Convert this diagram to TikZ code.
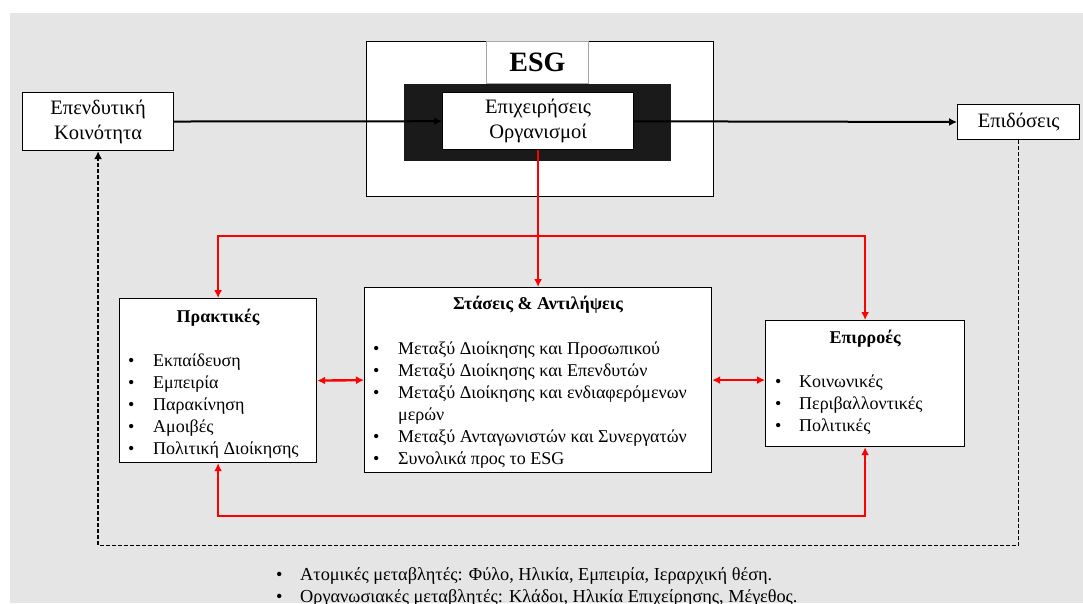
\documentclass[tikz,border=0pt]{standalone}
\usepackage{fontspec}
\setmainfont{Liberation Serif}
\usetikzlibrary{arrows.meta}

\definecolor{bggray}{HTML}{E5E5E5}
\definecolor{coreblack}{HTML}{1A1A1A}
\definecolor{linkred}{HTML}{FF0000}

\begin{document}
\begin{tikzpicture}[x=1pt,y=-1pt,
    >={Latex[width=8pt,length=8pt]},
    box/.style = {rectangle, draw=black, fill=white, line width=1.2pt,
                  inner sep=0pt, anchor=north west,
                  font=\fontsize{20.5}{25}\selectfont},
    title/.style = {anchor=base, inner sep=0pt,
                    font=\fontsize{18}{22}\selectfont\bfseries},
    items/.style = {anchor=base west, inner sep=0pt,
                    font=\fontsize{18}{22}\selectfont},
    redlink/.style = {draw=linkred, line width=2.4pt}]

  \useasboundingbox (0,0) rectangle (1083,603);
  \fill[bggray] (10,13) rectangle (1083,603);

  % ESG frame
  \node (esgframe) [box, minimum width=347pt, minimum height=155pt] at (366,41) {};
  \node (esglabel) [box, draw=gray!70, line width=0.8pt, minimum width=102pt, minimum height=42pt,
                    font=\fontsize{28}{28}\selectfont\bfseries] at (486,41) {ESG};
  \node (esgcore) [box, draw=none, fill=coreblack, minimum width=267pt, minimum height=77pt] at (403,83) {};
  \node (firms) [box, minimum width=191pt, minimum height=57pt, align=center] at (442,92) {Επιχειρήσεις\\Οργανισμοί};

  \node (kin) [box, minimum width=151pt, minimum height=58pt, align=center] at (22,92) {Επενδυτική\\Κοινότητα};
  \node (perf) [box, minimum width=122pt, minimum height=35pt] at (957,104) {Επιδόσεις};

  % lower boxes
  \node (prak) [box, minimum width=197pt, minimum height=164pt] at (119,298) {};
  \node (stat) [box, minimum width=347pt, minimum height=185pt] at (364,287) {};
  \node (infl) [box, minimum width=199pt, minimum height=126pt] at (765,320) {};

  \node (praktitle) [title] at ([yshift=-24pt]prak.north) {Πρακτικές};
  \node (stattitle) [title] at ([yshift=-22pt]stat.north) {Στάσεις \& Αντιλήψεις};
  \node (infltitle) [title] at ([yshift=-23pt]infl.north) {Επιρροές};

  \node (praklist) [items] at ([xshift=9pt,yshift=-68pt]prak.north west)
    {\begin{tabular}[t]{@{}p{25pt}@{}l@{}}
      \textbullet & Εκπαίδευση\\
      \textbullet & Εμπειρία\\
      \textbullet & Παρακίνηση\\
      \textbullet & Αμοιβές\\
      \textbullet & Πολιτική Διοίκησης
    \end{tabular}};
  \node (statlist) [items] at ([xshift=9pt,yshift=-67pt]stat.north west)
    {\begin{tabular}[t]{@{}p{25pt}@{}l@{}}
      \textbullet & Μεταξύ Διοίκησης και Προσωπικού\\
      \textbullet & Μεταξύ Διοίκησης και Επενδυτών\\
      \textbullet & Μεταξύ Διοίκησης και ενδιαφερόμενων\\
                  & μερών\\
      \textbullet & Μεταξύ Ανταγωνιστών και Συνεργατών\\
      \textbullet & Συνολικά προς το ESG
    \end{tabular}};
  \node (infllist) [items] at ([xshift=10pt,yshift=-67pt]infl.north west)
    {\begin{tabular}[t]{@{}p{24pt}@{}l@{}}
      \textbullet & Κοινωνικές\\
      \textbullet & Περιβαλλοντικές\\
      \textbullet & Πολιτικές
    \end{tabular}};

  \node (vars) [items, font=\fontsize{18.3}{22}\selectfont] at (276,580)
    {\begin{tabular}[t]{@{}p{24pt}@{}l@{}}
      \textbullet & Ατομικές μεταβλητές: Φύλο, Ηλικία, Εμπειρία, Ιεραρχική θέση.\\
      \textbullet & Οργανωσιακές μεταβλητές: Κλάδοι, Ηλικία Επιχείρησης, Μέγεθος.
    \end{tabular}};

  % black flow
  \draw[->, line width=2pt] (kin) -- (firms);
  \draw[->, line width=2pt] (firms) -- (perf);
  \draw[->, line width=1.4pt, dash pattern=on 4pt off 2pt]
    (perf.south) -- ++(0,405) -| (kin.south);

  % red links
  \coordinate (fork) at (firms.south |- 0,236);
  \draw[redlink, ->] (firms.south) -- (stat.north);
  \draw[redlink, ->] (fork) -| (prak.north);
  \draw[redlink, ->] (fork) -| (infl.north);
  \draw[redlink, <->] (prak.east) -- (stat.west);
  \draw[redlink, <->] (stat.east) -- (stat.east -| infl.west);
  \draw[redlink, <->] (prak.south) -- ++(0,53) -| (infl.south);
\end{tikzpicture}
\end{document}
